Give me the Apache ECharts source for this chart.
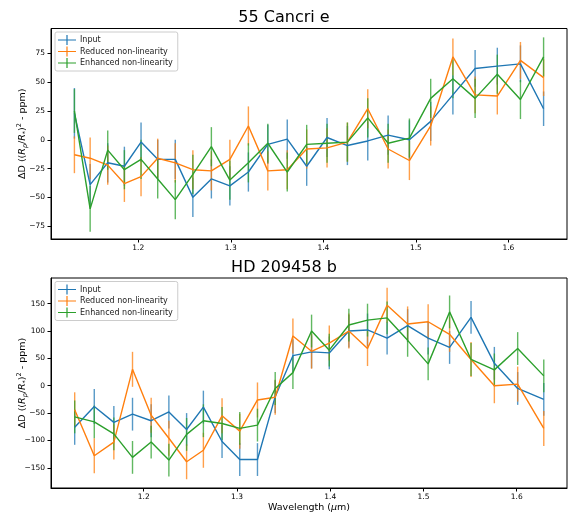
<!DOCTYPE html>
<html><head><meta charset="utf-8">
<script src="https://cdn.jsdelivr.net/npm/echarts@6/dist/echarts.min.js"></script>
<style>html,body{margin:0;padding:0;background:#fff}#c{width:568px;height:517px}</style>
</head><body><div id="c"></div>
<script>
// ---- 55 Cancri e ----
const wlTop = [1.131,1.148,1.167,1.185,1.203,1.221,1.240,1.259,1.279,1.299,1.319,1.340,1.361,1.382,1.404,1.426,1.448,1.470,1.493,1.516,1.540,1.564,1.588,1.613,1.638];
const topInput = [23,-39,-20,-23,-2,-17,-17,-50,-34,-40,-28,-4,0.6,-23,2,-5,-1,4,0,16,39,62,64,66,27];
const topReduced = [-13,-16,-22,-38,-32,-16,-20,-26,-27,-17,12,-27,-26,-8,-7,-2,27,-8,-18,12,72,39,38,69,54];
const topEnhanced = [25,-60,-9,-26,-17,-34,-52,-30,-6,-35,-20,-3,-28,-4,-3,-2,19,-3,1.5,36,53,36,57,35,72];
const topInputErr = [22,18,17,17,17,17,17,17,17,17,17,17,17,17,17,17,17,17,17,17,17,16,16,16,15];
const topReducedErr = [16,18,17,16,17,17,17,17,17,17,17,17,17,17,17,17,17,17,17,17,16,16,16,16,16];
const topEnhancedErr = [19,20,17,17,17,17,17,17,17,17,17,17,17,17,17,17,17,17,17,17,17,17,17,17,17];
// ---- HD 209458 b ----
const wlBot = [1.126,1.147,1.168,1.188,1.208,1.227,1.246,1.264,1.284,1.303,1.322,1.341,1.360,1.380,1.399,1.420,1.440,1.461,1.483,1.505,1.528,1.551,1.576,1.601,1.629];
const botInput = [-76,-38,-67,-52,-64,-48,-80,-39,-102,-135,-135,-20,55,62,60,100,102,87,110,87,70,125,41,-5,-25];
const botReduced = [-44,-128,-103,30,-54,-96,-139,-118,-55,-83,-26,-21,91,63,78,100,68,147,113,117,94,48,0,3,-78];
const botEnhanced = [-57,-66,-88,-131,-103,-136,-89,-64,-69,-78,-72,-5,24,100,65,111,120,124,83,40,135,48,29,68,18];
const botInputErr = [32,32,30,30,30,30,30,30,30,30,30,30,30,30,30,30,30,30,30,30,30,30,30,30,30];
const botReducedErr = [32,32,32,32,32,32,32,32,32,32,32,32,32,32,32,32,32,32,32,32,32,32,32,32,32];
const botEnhancedErr = [30,30,30,30,30,30,30,30,30,30,30,30,30,30,30,30,30,30,30,30,30,30,30,30,30];
// ---- ticks ----
const xTicks = [1.2,1.3,1.4,1.5,1.6];
const yTicksTop = [-75,-50,-25,0,25,50,75];
const yTicksBot = [-150,-100,-50,0,50,100,150];
const seriesNames = ['Input','Reduced non-linearity','Enhanced non-linearity'];
const titles = ['55 Cancri e','HD 209458 b'];

const colors = ['#1f77b4','#ff7f0e','#2ca02c'];
const FONT = 'DejaVu Sans';
const fmtY = v => v < 0 ? '\u2212' + Math.abs(v) : String(v);

function pairs(x, y){ return x.map((v,i)=>[v,y[i]]); }
function triples(x, y, e){ return x.map((v,i)=>[v,y[i],e[i]]); }

function errSeries(name, gi, x, y, e, color){
  return {
    type:'custom', name: name+' err', xAxisIndex:gi, yAxisIndex:gi,
    data: triples(x,y,e), encode:{x:0,y:1}, silent:true, animation:false,
    renderItem:function(params, api){
      const xv=api.value(0), yv=api.value(1), ev=api.value(2);
      const p1=api.coord([xv,yv+ev]), p2=api.coord([xv,yv-ev]);
      return {type:'line', shape:{x1:p1[0],y1:p1[1],x2:p2[0],y2:p2[1]},
        style:{stroke:color,lineWidth:1.4,opacity:0.75}};
    }
  };
}
function lineSeries(name, gi, x, y, color){
  return {type:'line', name:name, xAxisIndex:gi, yAxisIndex:gi, data:pairs(x,y),
    showSymbol:false, symbol:'none', animation:false, color:color,
    lineStyle:{color:color,width:1.4}, itemStyle:{color:color}};
}

const grids = [
  {left:51, right:1, top:28.5, height:210.5, show:true, borderColor:'#000', borderWidth:1, containLabel:false, outerBoundsMode:'none'},
  {left:51, right:1, top:278, height:210, show:true, borderColor:'#000', borderWidth:1, containLabel:false, outerBoundsMode:'none'}
];
const xRanges = [[1.1057,1.6633],[1.1006,1.6539]];
const yRanges = [[-86.2,96.7],[-187,197]];
const yTicks = [yTicksTop, yTicksBot];

const yName = '{a|\u0394D ((}{i|R}{s|p}{a|/}{i|R}{s|*}{a|)}{p|2}{a| - ppm)}';
const yRich = {
  a:{fontSize:9.5,fontFamily:FONT,color:'#000',lineHeight:13},
  i:{fontSize:9.5,fontFamily:FONT,fontStyle:'italic',color:'#000',lineHeight:13},
  s:{fontSize:6.5,fontFamily:FONT,fontStyle:'italic',color:'#000',verticalAlign:'bottom',lineHeight:7},
  p:{fontSize:6.5,fontFamily:FONT,color:'#000',verticalAlign:'top',lineHeight:7}
};

const xAxes = [0,1].map(gi=>({
  type:'value', gridIndex:gi, min:xRanges[gi][0], max:xRanges[gi][1],
  splitLine:{show:false},
  axisLine:{show:true,onZero:false,lineStyle:{color:'#000',width:1}},
  axisTick:{show:true,inside:false,length:3.5,lineStyle:{color:'#000'},customValues:xTicks},
  axisLabel:{fontSize:7.5,fontFamily:FONT,color:'#000',margin:5,customValues:xTicks,formatter:v=>v.toFixed(1)},
  name: gi===1 ? '{a|Wavelength (}{i|\u03bc}{a|m)}' : '',
  nameLocation:'middle', nameGap:15, nameMoveOverlap:false,
  nameTextStyle:{rich:{a:{fontSize:9.5,fontFamily:FONT,color:'#000'},i:{fontSize:9.5,fontFamily:FONT,fontStyle:'italic',color:'#000'}}}
}));
const yAxes = [0,1].map(gi=>({
  type:'value', gridIndex:gi, min:yRanges[gi][0], max:yRanges[gi][1],
  splitLine:{show:false},
  axisLine:{show:true,onZero:false,lineStyle:{color:'#000',width:1}},
  axisTick:{show:true,inside:false,length:3.5,lineStyle:{color:'#000'},customValues:yTicks[gi]},
  axisLabel:{fontSize:7.5,fontFamily:FONT,color:'#000',margin:6,customValues:yTicks[gi],formatter:fmtY},
  name:yName, nameLocation:'middle', nameGap:22, nameMoveOverlap:false,
  nameTextStyle:{rich:yRich}
}));

const series = [];
const topData = [[topInput,topInputErr],[topReduced,topReducedErr],[topEnhanced,topEnhancedErr]];
const botData = [[botInput,botInputErr],[botReduced,botReducedErr],[botEnhanced,botEnhancedErr]];
[[wlTop,topData],[wlBot,botData]].forEach(([wl,ds],gi)=>{
  ds.forEach(([y,e],k)=>{
    series.push(errSeries(seriesNames[k],gi,wl,y,e,colors[k]));
    series.push(lineSeries(seriesNames[k],gi,wl,y,colors[k]));
  });
});

const plusIcon = 'path://M0,4.4 H18 V5.6 H0 Z M8.4,0 H9.6 V10 H8.4 Z';
const legends = [32, 281.5].map(t=>({
  left:55, top:t, orient:'vertical', data:seriesNames.map(n=>({name:n,icon:plusIcon})),
  itemWidth:18, itemHeight:10, itemGap:1.5, padding:[3,5,3,3],
  borderColor:'#ccc', borderWidth:1, borderRadius:2, backgroundColor:'rgba(255,255,255,0.85)',
  textStyle:{fontSize:8,fontFamily:FONT,color:'#222',padding:[0,0,0,-1]},
  selectedMode:false
}));

const chart = echarts.init(document.getElementById('c'), null, {renderer:'canvas'});
chart.setOption({
  animation:false,
  title:[
    {text:titles[0], left:'center', top:10, textStyle:{fontSize:16,fontWeight:'normal',fontFamily:FONT,color:'#000'}, padding:0},
    {text:titles[1], left:'center', top:260, textStyle:{fontSize:16,fontWeight:'normal',fontFamily:FONT,color:'#000'}, padding:0}
  ],
  grid:grids, xAxis:xAxes, yAxis:yAxes, legend:legends, series:series
});
</script></body></html>
